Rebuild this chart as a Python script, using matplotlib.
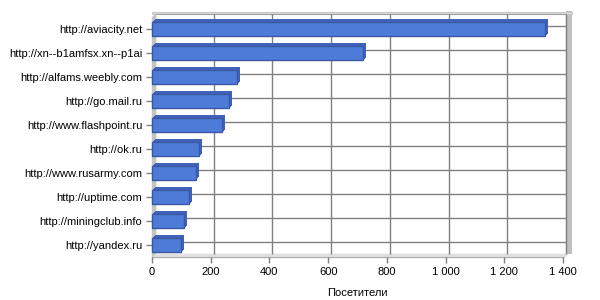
import matplotlib
matplotlib.use('Agg')
import matplotlib.pyplot as plt
from matplotlib.transforms import ScaledTranslation
from matplotlib.patches import Rectangle
import numpy as np

sites = ['http://aviacity.net', 'http://xn--b1amfsx.xn--p1ai', 'http://alfams.weebly.com',
         'http://go.mail.ru', 'http://www.flashpoint.ru', 'http://ok.ru',
         'http://www.rusarmy.com', 'http://uptime.com', 'http://miningclub.info',
         'http://yandex.ru']
visitors = [1340, 720, 290, 263, 239, 161, 149, 127, 110, 100]
xticks = [0, 200, 400, 600, 800, 1000, 1200, 1400]
xticklabels = ['0', '200', '400', '600', '800', '1 000', '1 200', '1 400']

plt.rcParams['font.family'] = ['Liberation Sans', 'DejaVu Sans']

fig = plt.figure(figsize=(6, 3), dpi=100)
ax = fig.add_axes([152 / 600, 43 / 300, 411 / 600, 240 / 300])
ax.set_xlim(0, 1400)
ax.set_ylim(len(sites) - 0.5, -0.5)
ax.patch.set_visible(False)
for s in ax.spines.values():
    s.set_visible(False)

d = 0.03  # depth in inches (3 px)
back = ax.transAxes + ScaledTranslation(d, d, fig.dpi_scale_trans)
back_data = ax.transData + ScaledTranslation(d, d, fig.dpi_scale_trans)

# walls
ax.add_patch(Rectangle((1, 0), 0.014, 1.012, transform=back, facecolor='#c0c0c0',
                       edgecolor='none', clip_on=False, zorder=0))
ax.add_patch(Rectangle((-0.008, 1), 1.022, 0.01, transform=back, facecolor='#dcdcdc',
                       edgecolor='#c8c8c8', lw=0.8, clip_on=False, zorder=0))
ax.add_patch(Rectangle((0, 0), 1, 1, transform=back, facecolor='white',
                       edgecolor='#a0a0a0', lw=0.8, clip_on=False, zorder=0.5))
# left wall and floor as strips between front and back planes
for k in np.linspace(0, d, 7):
    off = ax.transAxes + ScaledTranslation(k, k, fig.dpi_scale_trans)
    ax.plot([0, 0], [0, 1], color='#c4c4c4', lw=1, transform=off, clip_on=False, zorder=0.6)
    ax.plot([0, 1], [0, 0], color='#e0e0e0', lw=1, transform=off, clip_on=False, zorder=0.6)
ax.plot([0, 1], [0, 0], color='#b0b0b0', lw=0.8, transform=ax.transAxes, clip_on=False, zorder=0.7)

# grid on back wall
ax.vlines(xticks[1:], -0.5, len(sites) - 0.5, colors='#808080', lw=1, transform=back_data,
          clip_on=False, zorder=1)
ax.hlines(range(len(sites)), 0, 1400, colors='#808080', lw=1, transform=back_data,
          clip_on=False, zorder=1)

# bars with depth
h = 0.62
for k in np.linspace(0.005, d, 6):
    off = ax.transData + ScaledTranslation(k, k, fig.dpi_scale_trans)
    ax.barh(range(len(sites)), visitors, height=h, color='#4062b8', edgecolor='none',
            transform=off, clip_on=False, zorder=2)
ax.barh(range(len(sites)), visitors, height=h, color='#4f7bd8', edgecolor='#3a58a8',
        lw=1, clip_on=False, zorder=3)

ax.set_xticks(xticks)
ax.set_xticklabels(xticklabels)
ax.set_yticks(range(len(sites)))
ax.set_yticklabels(sites)
ax.tick_params(axis='both', colors='#808080', labelcolor='black', labelsize=8, length=4, width=1)
ax.tick_params(axis='x', pad=3)
ax.tick_params(axis='y', pad=3)
ax.set_xlabel('Посетители', fontsize=8, labelpad=8)

fig.savefig('out.png', dpi=100)
